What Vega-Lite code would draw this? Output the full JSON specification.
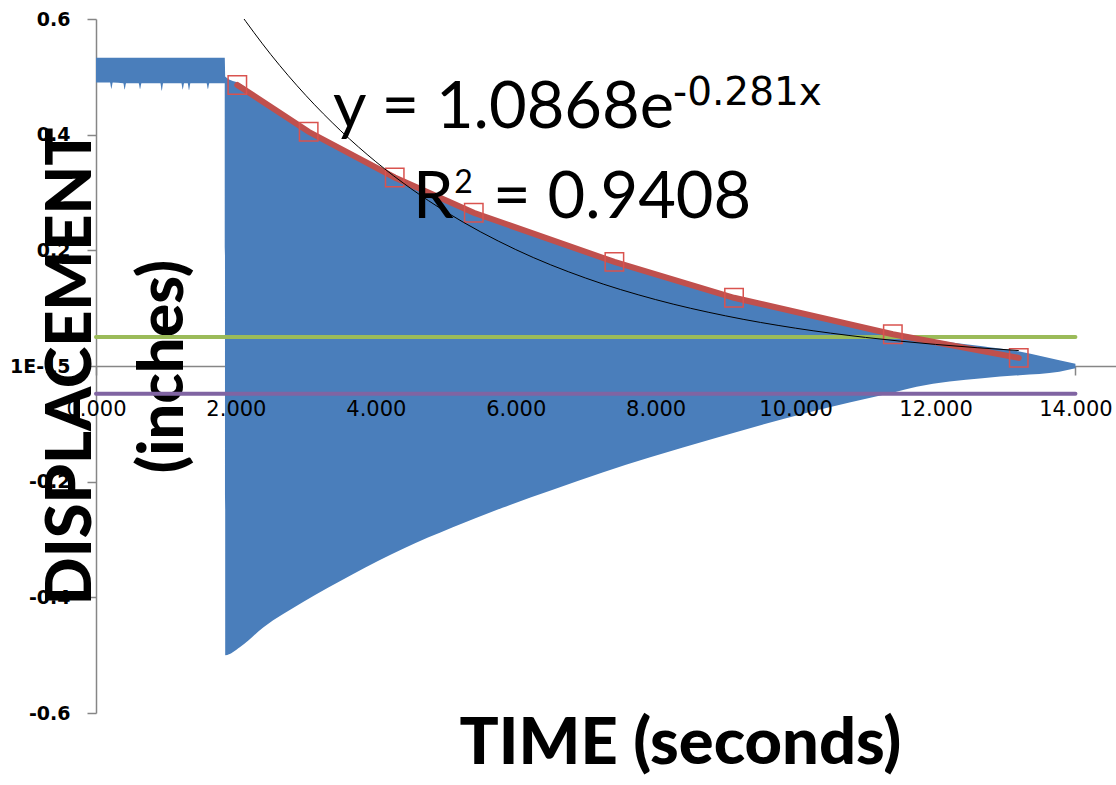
{
  "$schema": "https://vega.github.io/schema/vega-lite/v6.json",
  "width": 1020,
  "height": 694,
  "autosize": {"type": "none"},
  "padding": {"left": 96, "top": 19, "right": 0, "bottom": 72},
  "background": "white",
  "config": {"view": {"stroke": null}},
  "datasets": {
    "band": [
      {"t": 0.00, "hi": 0.533, "lo": 0.490},
      {"t": 0.20, "hi": 0.533, "lo": 0.490},
      {"t": 0.22, "hi": 0.533, "lo": 0.479},
      {"t": 0.24, "hi": 0.533, "lo": 0.490},
      {"t": 0.39, "hi": 0.533, "lo": 0.489},
      {"t": 0.41, "hi": 0.533, "lo": 0.478},
      {"t": 0.43, "hi": 0.533, "lo": 0.489},
      {"t": 0.61, "hi": 0.533, "lo": 0.489},
      {"t": 0.63, "hi": 0.533, "lo": 0.479},
      {"t": 0.65, "hi": 0.533, "lo": 0.489},
      {"t": 0.92, "hi": 0.533, "lo": 0.489},
      {"t": 0.94, "hi": 0.533, "lo": 0.476},
      {"t": 0.96, "hi": 0.533, "lo": 0.489},
      {"t": 1.22, "hi": 0.533, "lo": 0.489},
      {"t": 1.24, "hi": 0.533, "lo": 0.478},
      {"t": 1.26, "hi": 0.533, "lo": 0.489},
      {"t": 1.31, "hi": 0.533, "lo": 0.489},
      {"t": 1.33, "hi": 0.533, "lo": 0.477},
      {"t": 1.35, "hi": 0.533, "lo": 0.489},
      {"t": 1.58, "hi": 0.533, "lo": 0.489},
      {"t": 1.60, "hi": 0.533, "lo": 0.479},
      {"t": 1.62, "hi": 0.533, "lo": 0.489},
      {"t": 1.84, "hi": 0.533, "lo": 0.489},
      {"t": 1.85, "hi": 0.500, "lo": -0.500},
      {"t": 2.06, "hi": 0.488, "lo": -0.486},
      {"t": 2.39, "hi": 0.458, "lo": -0.452},
      {"t": 2.96, "hi": 0.411, "lo": -0.408},
      {"t": 3.67, "hi": 0.360, "lo": -0.360},
      {"t": 4.39, "hi": 0.320, "lo": -0.316},
      {"t": 5.10, "hi": 0.280, "lo": -0.279},
      {"t": 5.81, "hi": 0.245, "lo": -0.245},
      {"t": 6.53, "hi": 0.214, "lo": -0.214},
      {"t": 7.24, "hi": 0.186, "lo": -0.184},
      {"t": 7.91, "hi": 0.162, "lo": -0.158},
      {"t": 8.87, "hi": 0.126, "lo": -0.124},
      {"t": 9.81, "hi": 0.100, "lo": -0.092},
      {"t": 10.77, "hi": 0.073, "lo": -0.063},
      {"t": 11.40, "hi": 0.055, "lo": -0.046},
      {"t": 11.73, "hi": 0.049, "lo": -0.036},
      {"t": 12.67, "hi": 0.034, "lo": -0.021},
      {"t": 13.20, "hi": 0.025, "lo": -0.016},
      {"t": 13.77, "hi": 0.010, "lo": -0.010},
      {"t": 14.00, "hi": 0.004, "lo": -0.004}
    ],
    "limits": [
      {"t0": 0, "t1": 14, "v": 0.05, "name": "upper"},
      {"t0": 0, "t1": 14, "v": -0.048, "name": "lower"}
    ],
    "peaks": [
      {"t": 2.02, "v": 0.486},
      {"t": 3.04, "v": 0.405},
      {"t": 4.27, "v": 0.326},
      {"t": 5.40, "v": 0.265},
      {"t": 7.41, "v": 0.180},
      {"t": 9.12, "v": 0.118},
      {"t": 11.39, "v": 0.055},
      {"t": 13.19, "v": 0.014}
    ],
    "trend": [
      {"t": 2.02, "v": 0.616},
      {"t": 2.5, "v": 0.5384},
      {"t": 3.0, "v": 0.4678},
      {"t": 3.5, "v": 0.4065},
      {"t": 4.0, "v": 0.3532},
      {"t": 4.5, "v": 0.3069},
      {"t": 5.0, "v": 0.2667},
      {"t": 6.0, "v": 0.2013},
      {"t": 7.0, "v": 0.1520},
      {"t": 8.0, "v": 0.1148},
      {"t": 9.0, "v": 0.0867},
      {"t": 10.0, "v": 0.0654},
      {"t": 11.0, "v": 0.0494},
      {"t": 12.0, "v": 0.0373},
      {"t": 13.19, "v": 0.0267}
    ],
    "eqBig": [
      {"t": 3.388, "v": 0.4118, "label": "y = 1.0868e"},
      {"t": 4.532, "v": 0.2561, "label": "R"},
      {"t": 5.676, "v": 0.2561, "label": "= 0.9408"}
    ],
    "eqExp": [
      {"t": 8.249, "v": 0.4516, "label": "-0.281x"}
    ],
    "eqSq": [
      {"t": 5.12, "v": 0.2993, "label": "2"}
    ]
  },
  "resolve": {"axis": {"x": "independent", "y": "independent"}},
  "layer": [
    {
      "data": {"name": "band"},
      "mark": {"type": "area", "color": "#4A7EBB", "opacity": 1, "interpolate": "monotone"},
      "encoding": {
        "x": {
          "field": "t", "type": "quantitative",
          "scale": {"domain": [0, 14.58], "nice": false, "zero": false},
          "axis": {
            "orient": "bottom", "offset": -347,
            "values": [0, 2, 4, 6, 8, 10, 12, 14],
            "grid": false, "labels": false,
            "domainColor": "#868686", "domainWidth": 1.5,
            "tickColor": "#868686", "tickWidth": 1.5, "tickSize": 9,
            "title": "TIME (seconds)",
            "titleFont": "Lato", "titleFontSize": 65, "titleFontWeight": 900,
            "titleColor": "#000000",
            "titleX": 584, "titleY": 397,
            "titleAlign": "center", "titleBaseline": "alphabetic",
            "zindex": 0
          }
        },
        "y": {
          "field": "hi", "type": "quantitative",
          "scale": {"domain": [-0.6, 0.6], "nice": false, "zero": false},
          "axis": {
            "orient": "left",
            "values": [-0.6, -0.4, -0.2, 0, 0.2, 0.4, 0.6],
            "grid": false,
            "domainColor": "#868686", "domainWidth": 1.5,
            "tickColor": "#868686", "tickWidth": 1.5, "tickSize": 9,
            "labelFont": "DejaVu Sans", "labelFontSize": 19,
            "labelFontWeight": "bold",
            "labelColor": "#000000", "labelPadding": 17,
            "labelExpr": "datum.value == 0 ? '1E-15' : (datum.value < 0 ? '-' : '') + format(abs(datum.value), '.1f')",
            "title": ["DISPLACEMENT", "(inches)"],
            "titleFont": "Lato", "titleFontSize": 63, "titleFontWeight": 900,
            "titleColor": "#000000",
            "titleAngle": 270,
            "titleX": -6, "titleY": 347,
            "titleAlign": "center", "titleBaseline": "alphabetic",
            "titleLineHeight": 92,
            "zindex": 0
          }
        },
        "y2": {"field": "lo"}
      }
    },
    {
      "data": {"name": "limits"},
      "mark": {"type": "rule", "strokeWidth": 4, "strokeCap": "round"},
      "encoding": {
        "x": {"field": "t0", "type": "quantitative", "scale": {"domain": [0, 14.58], "nice": false, "zero": false}, "axis": null},
        "x2": {"field": "t1"},
        "y": {"field": "v", "type": "quantitative", "scale": {"domain": [-0.6, 0.6], "nice": false, "zero": false}, "axis": null},
        "color": {"field": "name", "type": "nominal", "scale": {"domain": ["upper", "lower"], "range": ["#9BBB59", "#8064A2"]}, "legend": null}
      }
    },
    {
      "data": {"name": "peaks"},
      "mark": {"type": "line", "color": "#C0504D", "strokeWidth": 6, "strokeCap": "round"},
      "encoding": {
        "x": {"field": "t", "type": "quantitative", "scale": {"domain": [0, 14.58], "nice": false, "zero": false}, "axis": null},
        "y": {"field": "v", "type": "quantitative", "scale": {"domain": [-0.6, 0.6], "nice": false, "zero": false}, "axis": null}
      }
    },
    {
      "data": {"name": "peaks"},
      "mark": {"type": "point", "shape": "square", "filled": false, "size": 340, "stroke": "#D9534F", "strokeWidth": 1.5, "opacity": 1},
      "encoding": {
        "x": {"field": "t", "type": "quantitative", "scale": {"domain": [0, 14.58], "nice": false, "zero": false}, "axis": null},
        "y": {"field": "v", "type": "quantitative", "scale": {"domain": [-0.6, 0.6], "nice": false, "zero": false}, "axis": null}
      }
    },
    {
      "data": {"name": "trend"},
      "mark": {"type": "line", "color": "#000000", "strokeWidth": 1, "interpolate": "monotone", "clip": true},
      "encoding": {
        "x": {"field": "t", "type": "quantitative", "scale": {"domain": [0, 14.58], "nice": false, "zero": false}, "axis": null},
        "y": {"field": "v", "type": "quantitative", "scale": {"domain": [-0.6, 0.6], "nice": false, "zero": false}, "axis": null}
      }
    },
    {
      "data": {"name": "eqBig"},
      "mark": {"type": "text", "font": "Lato", "fontSize": 65, "align": "left", "baseline": "alphabetic", "color": "#000000"},
      "encoding": {
        "x": {
          "field": "t", "type": "quantitative",
          "scale": {"domain": [0, 14.58], "nice": false, "zero": false},
          "axis": {
            "orient": "bottom", "offset": -347,
            "values": [0, 2, 4, 6, 8, 10, 12, 14],
            "format": ".3f",
            "grid": false, "domain": false, "ticks": false, "tickSize": 0,
            "labelFont": "DejaVu Sans", "labelFontSize": 21, "labelColor": "#000000",
            "labelPadding": 32, "labelFlush": false, "labelOverlap": false,
            "title": null,
            "zindex": 1
          }
        },
        "y": {"field": "v", "type": "quantitative", "scale": {"domain": [-0.6, 0.6], "nice": false, "zero": false}, "axis": null},
        "text": {"field": "label", "type": "nominal"}
      }
    },
    {
      "data": {"name": "eqExp"},
      "mark": {"type": "text", "font": "DejaVu Sans", "fontSize": 39, "align": "left", "baseline": "alphabetic", "color": "#000000"},
      "encoding": {
        "x": {"field": "t", "type": "quantitative", "scale": {"domain": [0, 14.58], "nice": false, "zero": false}, "axis": null},
        "y": {"field": "v", "type": "quantitative", "scale": {"domain": [-0.6, 0.6], "nice": false, "zero": false}, "axis": null},
        "text": {"field": "label", "type": "nominal"}
      }
    },
    {
      "data": {"name": "eqSq"},
      "mark": {"type": "text", "font": "Lato", "fontSize": 32, "align": "left", "baseline": "alphabetic", "color": "#000000"},
      "encoding": {
        "x": {"field": "t", "type": "quantitative", "scale": {"domain": [0, 14.58], "nice": false, "zero": false}, "axis": null},
        "y": {"field": "v", "type": "quantitative", "scale": {"domain": [-0.6, 0.6], "nice": false, "zero": false}, "axis": null},
        "text": {"field": "label", "type": "nominal"}
      }
    }
  ]
}
